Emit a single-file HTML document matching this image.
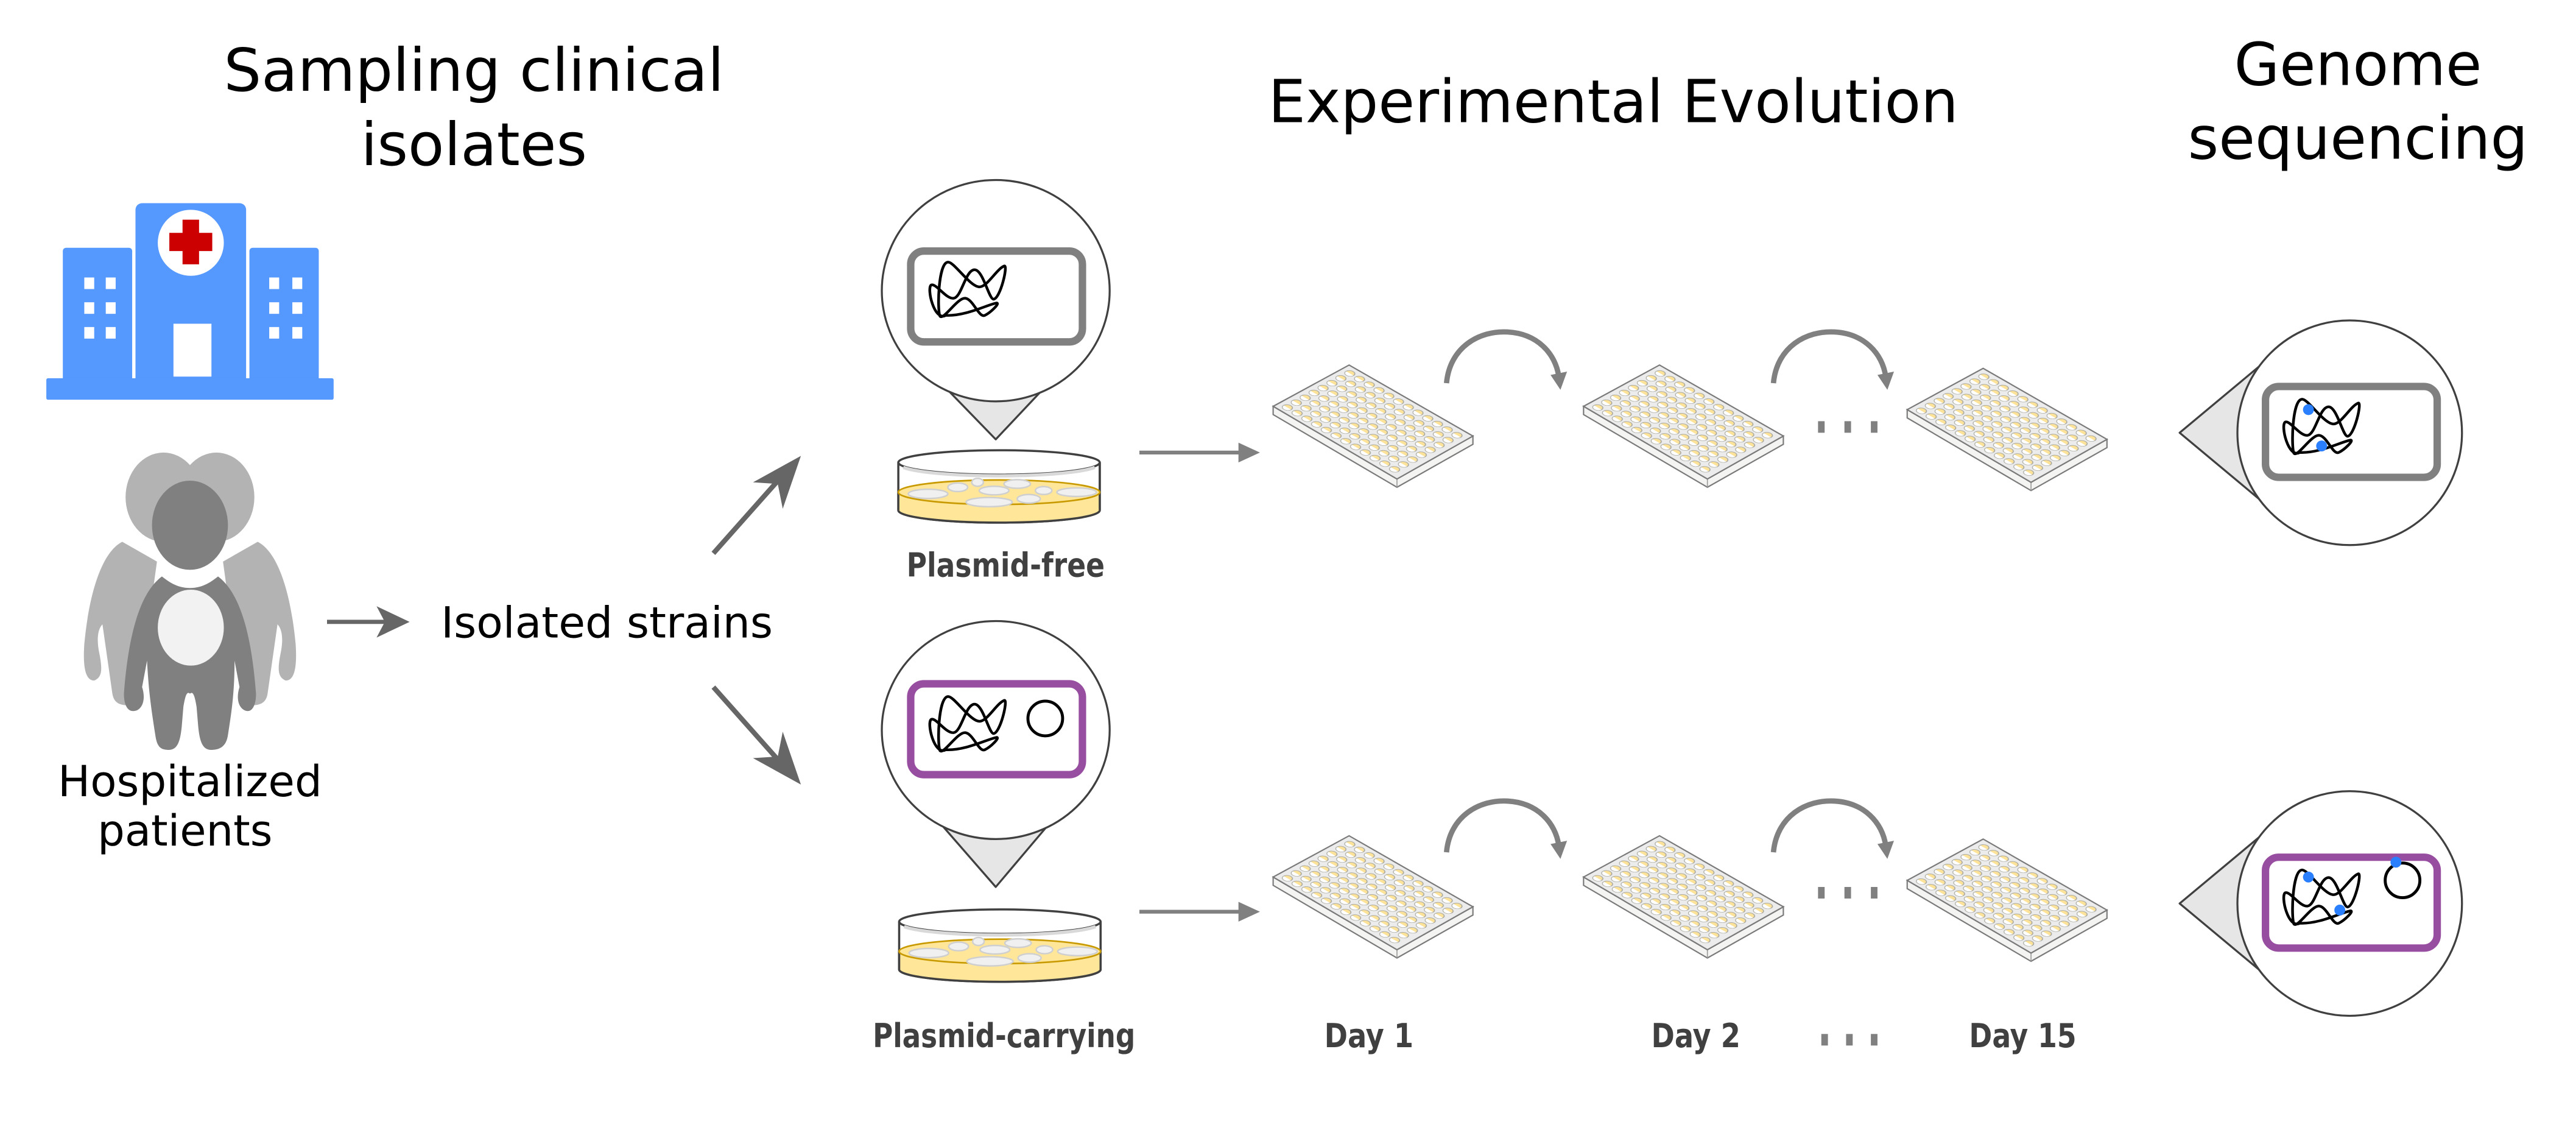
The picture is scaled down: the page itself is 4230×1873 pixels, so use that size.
<!DOCTYPE html>
<html><head><meta charset="utf-8"><style>
html,body{margin:0;padding:0;background:#fff;}
svg{display:block;}
text{font-family:"DejaVu Sans","Liberation Sans",sans-serif;}
.t{font-size:36px;fill:#000;}
.m{font-size:26px;fill:#000;}
.b{font-size:20px;font-weight:bold;fill:#404040;font-family:"DejaVu Sans Condensed","DejaVu Sans","Liberation Sans",sans-serif;}
</style></head><body>
<svg width="4230" height="1873" viewBox="0 0 1560 690.8" xmlns="http://www.w3.org/2000/svg">
<defs>
  <pattern id="wells" x="0" y="0" width="1" height="1" patternUnits="userSpaceOnUse">
    <ellipse cx="0.5" cy="0.5" rx="0.38" ry="0.38" fill="#fde39a" stroke="#a8a8a0" stroke-width="0.08"/>
    <path d="M0.14,0.5 A0.36,0.36 0 0 1 0.86,0.5 Z" fill="#fff"/>
  </pattern>
  <g id="plate">
    <polygon points="0,25 75,69 121,43 121,48 75,74 0,30" fill="#f4f4f2" stroke="#7a7a7a" stroke-width="0.8"/>
    <line x1="75" y1="69" x2="75" y2="74" stroke="#9a9a9a" stroke-width="0.6"/>
    <polygon points="0,25 46,0 121,43 75,69" fill="#ececec" stroke="#7a7a7a" stroke-width="0.8"/>
    <g transform="matrix(5.9 3.4 5.4 -2.95 3 25.5)">
      <rect x="0" y="0" width="12" height="8" fill="url(#wells)"/>
    </g>
  </g>
  <path id="chrom" d="M440 665 C380 700,340 520,365 505 C390 495,440 580,480 575 C520 570,540 430,585 425 C630 420,660 580,685 580 C720 575,760 400,740 405 C700 420,650 520,610 515 C560 510,480 380,450 385 C400 390,395 640,410 670 C430 690,500 570,540 575 C580 580,610 680,640 665 C670 650,720 600,700 600 C650 610,540 670,440 665 Z" fill="none" stroke="#000" stroke-width="14"/>
  <g id="dish">
    <path d="M-61,0 L-61,29 A61,7.4 0 0 0 61,29 L61,0" fill="#fff" stroke="#404040" stroke-width="1.3"/>
    <path d="M-61,18 A61,7.4 0 0 1 61,18 L61,29 A61,7.4 0 0 1 -61,29 Z" fill="#ffe699"/>
    <path d="M-61,29 A61,7.4 0 0 0 61,29" fill="none" stroke="#404040" stroke-width="1.3"/>
    <line x1="-61" y1="18" x2="-61" y2="29" stroke="#404040" stroke-width="1.3"/>
    <line x1="61" y1="0" x2="61" y2="29" stroke="#404040" stroke-width="1.3"/>
    <ellipse cx="0" cy="18" rx="61" ry="7.4" fill="#ffe699" stroke="#c89a00" stroke-width="1"/>
    <g fill="#f0f0f0" stroke="#cfcfcf" stroke-width="0.9">
      <ellipse cx="-43" cy="19" rx="12" ry="2.8"/><ellipse cx="-25" cy="15" rx="6" ry="2.6"/>
      <ellipse cx="-13" cy="12" rx="3.5" ry="2.4"/><ellipse cx="-3" cy="17" rx="9" ry="2.6"/>
      <ellipse cx="11" cy="13" rx="8" ry="2.6"/><ellipse cx="27" cy="17" rx="5" ry="2.4"/>
      <ellipse cx="47" cy="18" rx="12" ry="2.6"/><ellipse cx="-6" cy="24" rx="14" ry="2.8"/>
      <ellipse cx="18" cy="22" rx="7" ry="2.6"/>
    </g>
    <path d="M-61,0 A61,7.4 0 0 1 61,0 A61,7.4 0 0 1 -61,0 Z" fill="#fff" stroke="#404040" stroke-width="1.3"/>
    <path d="M-58,3 A61,7.4 0 0 0 58,3" fill="none" stroke="#d9d9d9" stroke-width="2"/>
  </g>
  <g id="curv">
    <path d="M0,0 C2,-22 20,-32 37,-31 C55,-30 66,-18 68,-4" fill="none" stroke="#808080" stroke-width="3.2"/>
    <polygon points="63,-5 73,-7 69,4" fill="#808080"/>
  </g>
</defs>

<text class="t" x="287" y="55" text-anchor="middle" textLength="303" lengthAdjust="spacingAndGlyphs">Sampling clinical</text>
<text class="t" x="287" y="100" text-anchor="middle" textLength="137" lengthAdjust="spacingAndGlyphs">isolates</text>
<text class="t" x="977" y="74" text-anchor="middle" textLength="418" lengthAdjust="spacingAndGlyphs">Experimental Evolution</text>
<text class="t" x="1428" y="51.5" text-anchor="middle" textLength="150" lengthAdjust="spacingAndGlyphs">Genome</text>
<text class="t" x="1428" y="96" text-anchor="middle" textLength="206" lengthAdjust="spacingAndGlyphs">sequencing</text>

<!-- Hospital -->
<g fill="#5599ff">
  <rect x="38" y="150" width="42" height="82" rx="2"/>
  <rect x="151" y="150" width="42" height="82" rx="2"/>
  <rect x="82" y="123" width="67" height="110" rx="4"/>
  <rect x="28" y="229" width="174" height="13" rx="1"/>
</g>
<ellipse cx="115.5" cy="147" rx="20" ry="20" fill="#fff"/>
<path d="M110.5,133 h10 v8 h8 v11 h-8 v8 h-10 v-8 h-8 v-11 h8 z" fill="#cc0000"/>
<rect x="105" y="196" width="23" height="32" fill="#fff"/>
<g fill="#fff">
  <rect x="51" y="168" width="6" height="7"/><rect x="64" y="168" width="6" height="7"/>
  <rect x="51" y="183" width="6" height="7"/><rect x="64" y="183" width="6" height="7"/>
  <rect x="51" y="198" width="6" height="7"/><rect x="64" y="198" width="6" height="7"/>
  <rect x="163" y="168" width="6" height="7"/><rect x="177" y="168" width="6" height="7"/>
  <rect x="163" y="183" width="6" height="7"/><rect x="177" y="183" width="6" height="7"/>
  <rect x="163" y="198" width="6" height="7"/><rect x="177" y="198" width="6" height="7"/>
</g>

<!-- Patients -->
<g fill="#b3b3b3">
  <ellipse cx="99" cy="301" rx="23" ry="27"/>
  <ellipse cx="131" cy="301" rx="23" ry="27"/>
  <path d="M74,328 C62,334 54,358 51,390 C50,405 52,412 57,412 C62,410 62,405 60,395 C58,385 60,380 62,378 L68,420 C69,426 73,427 78,427 C83,427 84,424 84,420 L95,340 Z"/>
  <path d="M156,328 C168,334 176,358 179,390 C180,405 178,412 173,412 C168,410 168,405 170,395 C172,385 170,380 168,378 L162,420 C161,426 157,427 152,427 C147,427 146,424 146,420 L135,340 Z"/>
</g>
<g fill="#808080">
  <ellipse cx="115" cy="318" rx="23" ry="27"/>
  <path d="M98,349 C103,353 108,356 115,356 C122,356 127,353 132,349 C144,358 152,380 155,420 C155,428 152,432 148,430 C144,428 143,422 145,416 L142,400 C142,420 140,432 138,445 C137,452 133,454 128,454 C123,454 121,450 120,440 L119,428 C118,422 117,418 115,420 C113,418 112,422 111,428 L110,440 C109,450 107,454 102,454 C97,454 95,452 94,445 C92,432 90,420 89,400 L86,416 C88,422 87,428 83,430 C78,432 75,428 75,420 C78,380 86,358 98,349 Z"/>
</g>
<ellipse cx="115.5" cy="380" rx="20" ry="23" fill="#f2f2f2"/>

<text class="m" x="115" y="482" text-anchor="middle" textLength="160" lengthAdjust="spacingAndGlyphs">Hospitalized</text>
<text class="m" x="112" y="512" text-anchor="middle" textLength="106" lengthAdjust="spacingAndGlyphs">patients</text>

<line x1="198" y1="376.5" x2="240" y2="376.5" stroke="#666" stroke-width="2.5"/>
<polygon points="228,367 248,376.5 228,386 233,376.5" fill="#666"/>
<text class="m" x="267" y="386" textLength="201" lengthAdjust="spacingAndGlyphs">Isolated strains</text>

<line x1="432" y1="335" x2="472" y2="290" stroke="#666" stroke-width="3"/>
<polygon points="485,276 474,308 471,293 456,292" fill="#666"/>
<line x1="432" y1="416" x2="472" y2="461" stroke="#666" stroke-width="3"/>
<polygon points="485,475 474,443 471,458 456,459" fill="#666"/>

<!-- Top-left magnifier -->
<polygon points="569,231 636,231 603,266" fill="#e6e6e6" stroke="#404040" stroke-width="1.2" stroke-linejoin="round"/>
<ellipse cx="603" cy="176" rx="69" ry="67" fill="#fff" stroke="#404040" stroke-width="1.2"/>
<rect x="551.5" y="152" width="104" height="55" rx="8" fill="#fff" stroke="#808080" stroke-width="4.5"/>
<g transform="translate(561,157) scale(0.118 0.115) translate(-340,-370)"><use href="#chrom"/></g>

<g transform="translate(605,280)"><use href="#dish"/></g>
<text class="b" x="609" y="349" text-anchor="middle" textLength="120" lengthAdjust="spacingAndGlyphs">Plasmid-free</text>

<!-- Bottom-left magnifier -->
<polygon points="569,498 636,498 603,537" fill="#e6e6e6" stroke="#404040" stroke-width="1.2" stroke-linejoin="round"/>
<ellipse cx="603" cy="442" rx="69" ry="66" fill="#fff" stroke="#404040" stroke-width="1.2"/>
<rect x="551.5" y="414" width="104" height="55" rx="8" fill="#fff" stroke="#984ea0" stroke-width="4.5"/>
<g transform="translate(561,420) scale(0.118 0.115) translate(-340,-370)"><use href="#chrom"/></g>
<circle cx="633" cy="435" r="10.5" fill="none" stroke="#000" stroke-width="1.8"/>

<g transform="translate(605.5,558)"><use href="#dish"/></g>
<text class="b" x="608" y="634" text-anchor="middle" textLength="159" lengthAdjust="spacingAndGlyphs">Plasmid-carrying</text>

<line x1="690" y1="274" x2="752" y2="274" stroke="#808080" stroke-width="2.3"/>
<polygon points="750,268 763,274 750,280" fill="#808080"/>
<line x1="690" y1="552" x2="752" y2="552" stroke="#808080" stroke-width="2.3"/>
<polygon points="750,546 763,552 750,558" fill="#808080"/>

<use href="#plate" x="771" y="221"/>
<use href="#plate" x="959" y="221"/>
<use href="#plate" x="1155" y="223"/>
<use href="#plate" x="771" y="506"/>
<use href="#plate" x="959" y="506"/>
<use href="#plate" x="1155" y="508"/>

<use href="#curv" x="876" y="232"/>
<use href="#curv" x="1074" y="232"/>
<use href="#curv" x="876" y="516"/>
<use href="#curv" x="1074" y="516"/>

<g fill="#808080">
  <rect x="1101" y="255" width="4" height="7"/><rect x="1117" y="255" width="4" height="7"/><rect x="1133" y="255" width="4" height="7"/>
  <rect x="1101" y="537" width="4" height="7"/><rect x="1117" y="537" width="4" height="7"/><rect x="1133" y="537" width="4" height="7"/>
  <rect x="1103" y="626" width="4" height="7"/><rect x="1118" y="626" width="4" height="7"/><rect x="1133" y="626" width="4" height="7"/>
</g>

<text class="b" x="829" y="634" text-anchor="middle" textLength="54" lengthAdjust="spacingAndGlyphs">Day 1</text>
<text class="b" x="1027" y="634" text-anchor="middle" textLength="54" lengthAdjust="spacingAndGlyphs">Day 2</text>
<text class="b" x="1225" y="634" text-anchor="middle" textLength="65" lengthAdjust="spacingAndGlyphs">Day 15</text>

<!-- Right magnifiers -->
<polygon points="1320,262 1368,222 1368,302" fill="#e6e6e6" stroke="#404040" stroke-width="1.2" stroke-linejoin="round"/>
<circle cx="1423" cy="262" r="68" fill="#fff" stroke="#404040" stroke-width="1.2"/>
<rect x="1372" y="234" width="104" height="55" rx="8" fill="#fff" stroke="#808080" stroke-width="4.5"/>
<g transform="translate(1381,240) scale(0.118 0.115) translate(-340,-370)"><use href="#chrom"/></g>
<circle cx="1398" cy="248" r="3.3" fill="#2a7fff"/>
<circle cx="1406" cy="270" r="3.3" fill="#2a7fff"/>

<polygon points="1320,547 1368,507 1368,587" fill="#e6e6e6" stroke="#404040" stroke-width="1.2" stroke-linejoin="round"/>
<circle cx="1423" cy="547" r="68" fill="#fff" stroke="#404040" stroke-width="1.2"/>
<rect x="1372" y="519" width="104" height="55" rx="8" fill="#fff" stroke="#984ea0" stroke-width="4.5"/>
<g transform="translate(1381,525) scale(0.118 0.115) translate(-340,-370)"><use href="#chrom"/></g>
<circle cx="1455" cy="533" r="10.5" fill="none" stroke="#000" stroke-width="1.8"/>
<circle cx="1398" cy="531" r="3.3" fill="#2a7fff"/>
<circle cx="1417" cy="551" r="3.3" fill="#2a7fff"/>
<circle cx="1451" cy="522" r="3.3" fill="#2a7fff"/>
</svg>
</body></html>
